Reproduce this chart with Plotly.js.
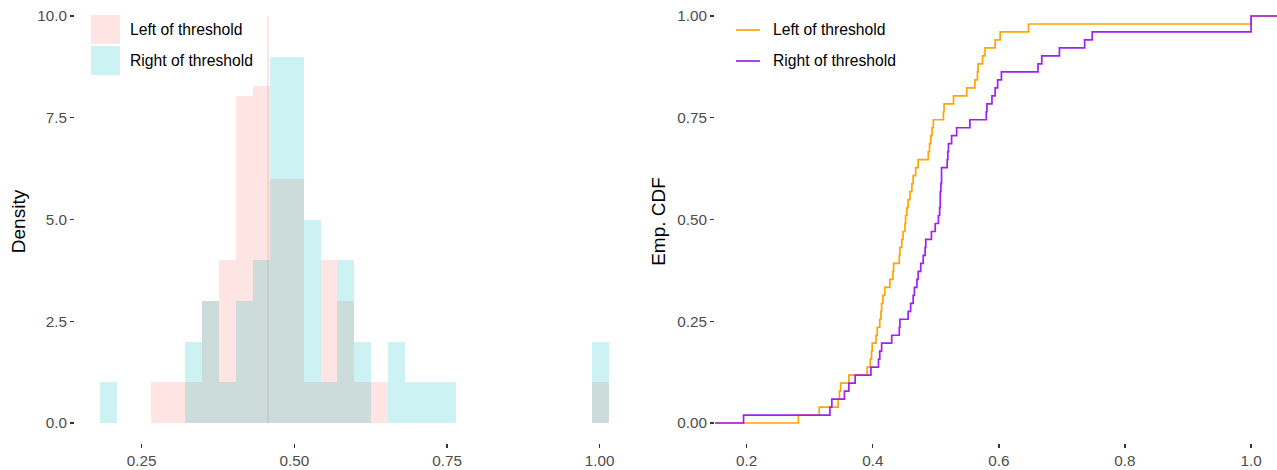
<!DOCTYPE html>
<html>
<head>
<meta charset="utf-8">
<script src="https://cdn.plot.ly/plotly-3.0.1.min.js"></script>
<style>html,body{margin:0;padding:0;background:#fff;}#chart{width:1277px;height:470px;}</style>
</head>
<body>
<div id="chart"></div>
<script>
// ---------- DATA ----------
const seriesNames = ["Left of threshold", "Right of threshold"];

// histogram bin centres (30 bins)
const binCenters = [0.1956, 0.2234, 0.2512, 0.2789, 0.3067, 0.3345, 0.3623, 0.3901, 0.4178, 0.4456,
                    0.4734, 0.5012, 0.5290, 0.5567, 0.5845, 0.6123, 0.6401, 0.6679, 0.6956, 0.7234,
                    0.7512, 0.7790, 0.8068, 0.8345, 0.8623, 0.8901, 0.9179, 0.9457, 0.9734, 1.0012];
const leftDensity  = [0, 0, 0, 1, 1, 1, 3, 4, 8.03, 8.28,
                      6, 6, 1, 4, 3, 1, 1, 0, 0, 0,
                      0, 0, 0, 0, 0, 0, 0, 0, 0, 1];
const rightDensity = [1, 0, 0, 0, 0, 2, 3, 1, 3, 4,
                      9, 9, 5, 1, 4, 2, 0, 2, 1, 1,
                      1, 0, 0, 0, 0, 0, 0, 0, 0, 2];
// narrow extra bar of the left histogram next to the threshold
const leftSpikeX = [0.4569];
const leftSpikeDensity = [10];

// sorted observations used for the empirical CDFs
const leftValues = [0.282, 0.315, 0.345, 0.347, 0.349, 0.362, 0.391, 0.396, 0.398, 0.399,
                    0.405, 0.407, 0.411, 0.413, 0.414, 0.416, 0.419, 0.427, 0.432, 0.433,
                    0.442, 0.443, 0.446, 0.448, 0.451, 0.452, 0.454, 0.456, 0.459, 0.462,
                    0.464, 0.468, 0.472, 0.488, 0.490, 0.492, 0.494, 0.496, 0.512, 0.513,
                    0.528, 0.549, 0.562, 0.566, 0.567, 0.574, 0.578, 0.594, 0.602, 0.647, 1.000];
const rightValues = [0.195, 0.332, 0.335, 0.355, 0.362, 0.372, 0.397, 0.409, 0.411, 0.414,
                     0.430, 0.442, 0.443, 0.456, 0.460, 0.464, 0.466, 0.470, 0.472, 0.476,
                     0.480, 0.483, 0.484, 0.493, 0.499, 0.504, 0.506, 0.507, 0.507, 0.508,
                     0.509, 0.509, 0.518, 0.519, 0.520, 0.525, 0.533, 0.554, 0.580, 0.581,
                     0.589, 0.594, 0.598, 0.604, 0.662, 0.668, 0.696, 0.736, 0.748, 1.000, 1.000];

const histTicks = [0.25, 0.50, 0.75, 1.00];
const histTickText = ["0.25", "0.50", "0.75", "1.00"];
const densTicks = [0, 2.5, 5, 7.5, 10];
const densTickText = ["0.0", "2.5", "5.0", "7.5", "10.0"];
const cdfXTicks = [0.2, 0.4, 0.6, 0.8, 1.0];
const cdfXTickText = ["0.2", "0.4", "0.6", "0.8", "1.0"];
const cdfYTicks = [0, 0.25, 0.5, 0.75, 1];
const cdfYTickText = ["0.00", "0.25", "0.50", "0.75", "1.00"];

// ---------- STYLE ----------
const W = 1277, H = 470;
const M = {l: 75, r: 0, t: 0, b: 27};
const plotW = W - M.l - M.r, plotH = H - M.t - M.b;
const px = x => (x - M.l) / plotW;        // pixel -> paper x
const py = y => (plotH + M.t - y) / plotH; // pixel -> paper y

const pinkFill = "rgba(248,118,109,0.2)";
const cyanFill = "rgba(0,191,196,0.2)";
const orangeLine = "#FFA500";
const purpleLine = "#A020F0";
const binWidth = binCenters[1] - binCenters[0];
const FONT = "Liberation Sans, Arial, Helvetica, sans-serif";

function ecdf(vals) {
  const s = vals.slice().sort((a, b) => a - b);
  const n = s.length;
  const xs = [-1], ys = [0];
  s.forEach((v, i) => { xs.push(v); ys.push((i + 1) / n); });
  xs.push(2); ys.push(1);
  return {x: xs, y: ys};
}
const eL = ecdf(leftValues), eR = ecdf(rightValues);

const traces = [
  {type: "bar", x: binCenters, y: leftDensity, width: binWidth, name: seriesNames[0],
   marker: {color: pinkFill, line: {width: 0}}, xaxis: "x", yaxis: "y", showlegend: false},
  {type: "bar", x: leftSpikeX, y: leftSpikeDensity, width: 0.0043, name: seriesNames[0],
   marker: {color: pinkFill, line: {width: 0}}, xaxis: "x", yaxis: "y", showlegend: false},
  {type: "bar", x: binCenters, y: rightDensity, width: binWidth, name: seriesNames[1],
   marker: {color: cyanFill, line: {width: 0}}, xaxis: "x", yaxis: "y", showlegend: false},
  {type: "scatter", mode: "lines", x: eL.x, y: eL.y, name: seriesNames[0],
   line: {shape: "hv", color: orangeLine, width: 1.7}, xaxis: "x2", yaxis: "y2", showlegend: false},
  {type: "scatter", mode: "lines", x: eR.x, y: eR.y, name: seriesNames[1],
   line: {shape: "hv", color: purpleLine, width: 1.7}, xaxis: "x2", yaxis: "y2", showlegend: false}
];

const tickFont = {family: FONT, size: 15.3, color: "#4D4D4D"};
const titleFont = {family: FONT, size: 19, color: "#000"};
const legendFont = {family: FONT, size: 15.7, color: "#000"};
const axisCommon = {showgrid: false, zeroline: false, showline: false, ticks: "outside",
                    ticklen: 4, tickwidth: 1.2, tickcolor: "#333333", tickfont: tickFont,
                    tickmode: "array", fixedrange: true};

const layout = {
  width: W, height: H, margin: M,
  paper_bgcolor: "#fff", plot_bgcolor: "#fff",
  barmode: "overlay", bargap: 0,
  font: {family: FONT},
  xaxis: Object.assign({}, axisCommon, {domain: [0, px(634)], range: [0.1408, 1.0561],
          tickvals: histTicks, ticktext: histTickText, anchor: "y"}),
  yaxis: Object.assign({}, axisCommon, {domain: [0, 1], range: [-0.491, 10.393],
          tickvals: densTicks, ticktext: densTickText, anchor: "x",
          title: {text: "Density", font: titleFont, standoff: 6}}),
  xaxis2: Object.assign({}, axisCommon, {domain: [px(715), 1], range: [0.1497, 1.0411],
          tickvals: cdfXTicks, ticktext: cdfXTickText, anchor: "y2"}),
  yaxis2: Object.assign({}, axisCommon, {domain: [0, 1], range: [-0.0491, 1.0393],
          tickvals: cdfYTicks, ticktext: cdfYTickText, anchor: "x2",
          title: {text: "Emp. CDF", font: titleFont, standoff: 6}}),
  shapes: [
    {type: "rect", xref: "paper", yref: "paper", x0: px(91), x1: px(120), y0: py(44), y1: py(15),
     fillcolor: pinkFill, line: {width: 0}},
    {type: "rect", xref: "paper", yref: "paper", x0: px(91), x1: px(120), y0: py(75), y1: py(46),
     fillcolor: cyanFill, line: {width: 0}},
    {type: "line", xref: "paper", yref: "paper", x0: px(736), x1: px(760), y0: py(30), y1: py(30),
     line: {color: orangeLine, width: 1.7}},
    {type: "line", xref: "paper", yref: "paper", x0: px(736), x1: px(760), y0: py(61), y1: py(61),
     line: {color: purpleLine, width: 1.7}}
  ],
  annotations: [
    {xref: "paper", yref: "paper", x: px(128), y: py(29.5), xanchor: "left", yanchor: "middle",
     text: seriesNames[0], showarrow: false, font: legendFont},
    {xref: "paper", yref: "paper", x: px(128), y: py(60.5), xanchor: "left", yanchor: "middle",
     text: seriesNames[1], showarrow: false, font: legendFont},
    {xref: "paper", yref: "paper", x: px(771), y: py(29.5), xanchor: "left", yanchor: "middle",
     text: seriesNames[0], showarrow: false, font: legendFont},
    {xref: "paper", yref: "paper", x: px(771), y: py(60.5), xanchor: "left", yanchor: "middle",
     text: seriesNames[1], showarrow: false, font: legendFont}
  ]
};

Plotly.newPlot("chart", traces, layout, {staticPlot: true, displayModeBar: false});
</script>
</body>
</html>
